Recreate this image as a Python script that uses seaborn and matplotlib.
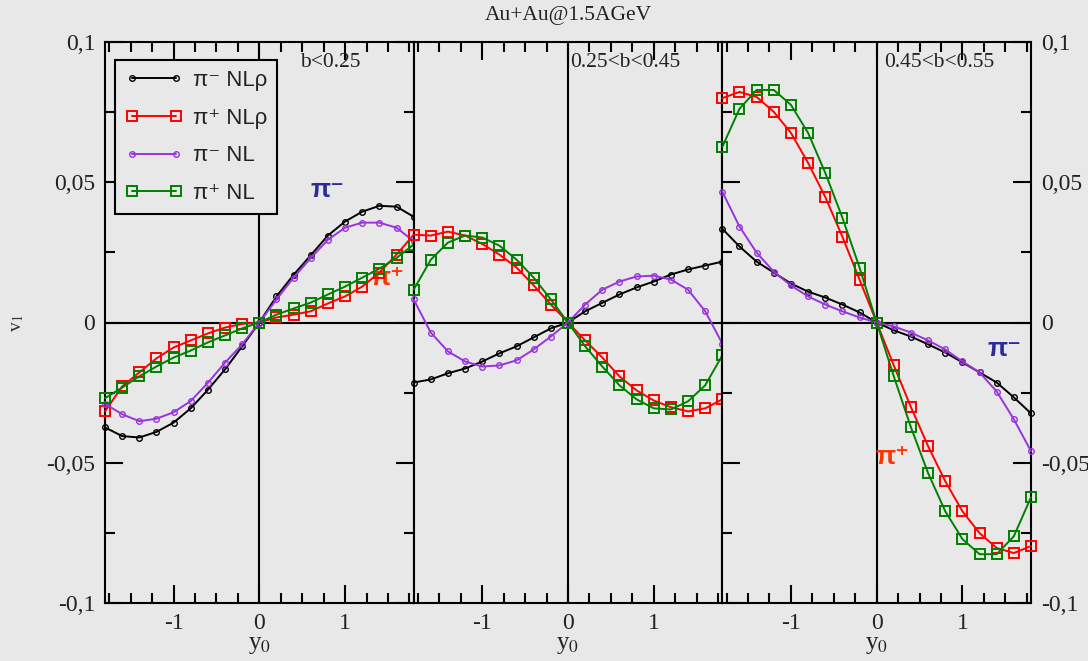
import matplotlib
matplotlib.use("Agg")
import matplotlib.pyplot as plt
import seaborn as sns
from matplotlib.ticker import MultipleLocator, FixedLocator, FixedFormatter
from matplotlib.lines import Line2D

# ---------------- data ----------------
y0 = [-1.8, -1.6, -1.4, -1.2, -1.0, -0.8, -0.6, -0.4, -0.2, 0.0,
      0.2, 0.4, 0.6, 0.8, 1.0, 1.2, 1.4, 1.6, 1.8]

series_labels = ["π⁻ NLρ", "π⁺ NLρ", "π⁻ NL", "π⁺ NL"]
panel_labels = ["b<0.25", "0.25<b<0.45", "0.45<b<0.55"]
title = "Au+Au@1.5AGeV"
ytick_vals = [-0.1, -0.05, 0.0, 0.05, 0.1]
ytick_labels = ["-0,1", "-0,05", "0", "0,05", "0,1"]
xtick_vals = [-1, 0, 1]
xtick_labels = ["-1", "0", "1"]

# panel 1 : b<0.25
pim_nlrho_1 = [-0.0374, -0.0405, -0.0410, -0.0390, -0.0357, -0.0306, -0.0240, -0.0167, -0.0085, 0.0,
               0.0093, 0.0170, 0.0240, 0.0310, 0.0360, 0.0395, 0.0416, 0.0413, 0.0377]
pip_nlrho_1 = [-0.0317, -0.0228, -0.0178, -0.0128, -0.0089, -0.0064, -0.0039, -0.0018, -0.0005, 0.0,
               0.0018, 0.0028, 0.0040, 0.0068, 0.0093, 0.0128, 0.0178, 0.0242, 0.0313]
pim_nl_1 = [-0.0290, -0.0327, -0.0352, -0.0343, -0.0320, -0.0280, -0.0215, -0.0143, -0.0078, 0.0,
            0.0082, 0.0160, 0.0230, 0.0295, 0.0338, 0.0356, 0.0356, 0.0338, 0.0290]
pip_nl_1 = [-0.0270, -0.0232, -0.0192, -0.0157, -0.0125, -0.0100, -0.0071, -0.0046, -0.0021, 0.0,
            0.0028, 0.0050, 0.0071, 0.0100, 0.0128, 0.0160, 0.0192, 0.0230, 0.0278]

# panel 2 : 0.25<b<0.45
pim_nlrho_2 = [-0.0214, -0.0203, -0.0181, -0.0164, -0.0139, -0.0110, -0.0085, -0.0053, -0.0021, 0.0,
               0.0040, 0.0070, 0.0100, 0.0125, 0.0146, 0.0171, 0.0189, 0.0203, 0.0217]
pip_nlrho_2 = [0.0313, 0.0310, 0.0324, 0.0310, 0.0280, 0.0242, 0.0196, 0.0132, 0.0064, 0.0,
               -0.0064, -0.0125, -0.0192, -0.0242, -0.0278, -0.0302, -0.0317, -0.0306, -0.0274]
pim_nl_2 = [0.0082, -0.0036, -0.0103, -0.0139, -0.0157, -0.0153, -0.0135, -0.0096, -0.0050, 0.0,
            0.0064, 0.0117, 0.0146, 0.0164, 0.0167, 0.0153, 0.0117, 0.0040, -0.0075]
pip_nl_2 = [0.0117, 0.0224, 0.0285, 0.0310, 0.0303, 0.0274, 0.0224, 0.0160, 0.0082, 0.0,
            -0.0085, -0.0157, -0.0224, -0.0274, -0.0306, -0.0310, -0.0281, -0.0224, -0.0117]

# panel 3 : 0.45<b<0.55
pim_nlrho_3 = [0.0334, 0.0271, 0.0217, 0.0178, 0.0139, 0.0110, 0.0089, 0.0064, 0.0036, 0.0,
               -0.0028, -0.0050, -0.0078, -0.0107, -0.0142, -0.0178, -0.0214, -0.0267, -0.0324]
pip_nlrho_3 = [0.0800, 0.0822, 0.0804, 0.0751, 0.0676, 0.0569, 0.0448, 0.0306, 0.0153, 0.0,
               -0.0153, -0.0302, -0.0441, -0.0566, -0.0673, -0.0751, -0.0804, -0.0822, -0.0797]
pim_nl_3 = [0.0466, 0.0342, 0.0249, 0.0181, 0.0132, 0.0093, 0.0064, 0.0040, 0.0018, 0.0,
            -0.0014, -0.0036, -0.0064, -0.0096, -0.0139, -0.0178, -0.0246, -0.0345, -0.0459]
pip_nl_3 = [0.0626, 0.0762, 0.0829, 0.0829, 0.0776, 0.0676, 0.0534, 0.0374, 0.0196, 0.0,
            -0.0192, -0.0374, -0.0537, -0.0673, -0.0772, -0.0826, -0.0826, -0.0762, -0.0623]

panels = [
    [pim_nlrho_1, pip_nlrho_1, pim_nl_1, pip_nl_1],
    [pim_nlrho_2, pip_nlrho_2, pim_nl_2, pip_nl_2],
    [pim_nlrho_3, pip_nlrho_3, pim_nl_3, pip_nl_3],
]

# ---------------- style ----------------
BG = "#e8e8e8"
colors = ["#000000", "#ff0000", "#9933dd", "#008000"]
markers = ["o", "s", "o", "s"]
msizes = [4.0, 7.0, 4.0, 7.0]
mews = [1.0, 1.4, 1.0, 1.4]

sns.set_theme(style="ticks")
plt.rcParams["font.family"] = ["Liberation Serif", "DejaVu Serif"]
plt.rcParams["mathtext.fontset"] = "stix"

fig, axes = plt.subplots(1, 3, figsize=(10.88, 6.61), dpi=100, sharey=True)
fig.patch.set_facecolor(BG)
fig.subplots_adjust(left=105 / 1088, right=1031 / 1088, top=1 - 42 / 661,
                    bottom=1 - 603 / 661, wspace=0)

sans = ["Liberation Sans", "DejaVu Sans"]

for i, ax in enumerate(axes):
    ax.set_facecolor(BG)
    ax.axhline(0, color="black", lw=1.5, zorder=1)
    ax.axvline(0, color="black", lw=1.5, zorder=1)
    for j, vals in enumerate(panels[i]):
        sns.lineplot(x=y0, y=vals, ax=ax, color=colors[j], marker=markers[j],
                     markersize=msizes[j], markerfacecolor="none",
                     markeredgecolor=colors[j], markeredgewidth=mews[j],
                     linewidth=1.4, clip_on=False, zorder=3 + j, legend=False)
    ax.set_xlim(-1.8, 1.8)
    ax.set_ylim(-0.1, 0.1)
    ax.xaxis.set_major_locator(FixedLocator(xtick_vals))
    ax.xaxis.set_major_formatter(FixedFormatter(xtick_labels))
    ax.xaxis.set_minor_locator(MultipleLocator(0.25))
    ax.yaxis.set_major_locator(FixedLocator(ytick_vals))
    ax.yaxis.set_major_formatter(FixedFormatter(ytick_labels))
    ax.yaxis.set_minor_locator(MultipleLocator(0.025))
    for sp in ax.spines.values():
        sp.set_linewidth(1.5)
        sp.set_color("black")
        sp.set_visible(True)
    ax.tick_params(which="both", direction="in", top=True, bottom=True,
                   width=1.5, color="black", labelsize=17, labelcolor="#222222")
    ax.tick_params(which="major", length=13, pad=7)
    ax.tick_params(which="minor", length=7)
    ax.set_xlabel("y$_0$", fontsize=18, labelpad=0, color="#222222")
    ax.set_ylabel("")

axes[0].tick_params(which="both", left=True, right=True, labelleft=True, labelright=False)
axes[1].tick_params(which="both", left=False, right=False, labelleft=False, labelright=False)
axes[2].tick_params(which="both", left=True, right=True, labelleft=False, labelright=True)

# panel labels
axes[0].text(0.47, 0.096, panel_labels[0], fontsize=15.5, ha="left", va="top", color="#222222")
axes[1].text(0.03, 0.096, panel_labels[1], fontsize=15.5, ha="left", va="top", color="#222222")
axes[2].text(0.09, 0.096, panel_labels[2], fontsize=15.5, ha="left", va="top", color="#222222")

# title
axes[1].text(0.5, 1.048, title, transform=axes[1].transAxes, fontsize=15.5,
             ha="center", va="center", color="#222222")

# y label
fig.text(18 / 1088, 1 - 323 / 661, "v$_1$", rotation=90, fontsize=14,
         ha="center", va="center", color="#333333")

# pion annotations
blue = "#2b2b99"
orange = "#ff3300"
axes[0].text(0.80, 0.0473, "π⁻", color=blue, fontsize=19, fontweight="bold",
             family=sans, ha="center", va="center")
axes[0].text(1.49, 0.0160, "π⁺", color=orange, fontsize=19, fontweight="bold",
             family=sans, ha="center", va="center")
axes[2].text(1.49, -0.0096, "π⁻", color=blue, fontsize=19, fontweight="bold",
             family=sans, ha="center", va="center")
axes[2].text(0.19, -0.0480, "π⁺", color=orange, fontsize=19, fontweight="bold",
             family=sans, ha="center", va="center")

# legend
handles = [Line2D([0], [0], color=colors[j], marker=markers[j], markersize=msizes[j],
                  markerfacecolor="none", markeredgecolor=colors[j],
                  markeredgewidth=mews[j], linewidth=1.4) for j in range(4)]
leg = axes[0].legend(handles, series_labels, loc="upper left",
                     bbox_to_anchor=(0.032, 0.968), borderaxespad=0, numpoints=2,
                     frameon=True, fancybox=False, edgecolor="black", facecolor=BG,
                     framealpha=1, prop={"family": sans, "size": 16},
                     handlelength=2.6, handletextpad=0.45, borderpad=0.45,
                     labelspacing=0.75)
leg.get_frame().set_linewidth(1.5)
for t in leg.get_texts():
    t.set_color("#222222")

fig.savefig("out.png", dpi=100, facecolor=BG)
